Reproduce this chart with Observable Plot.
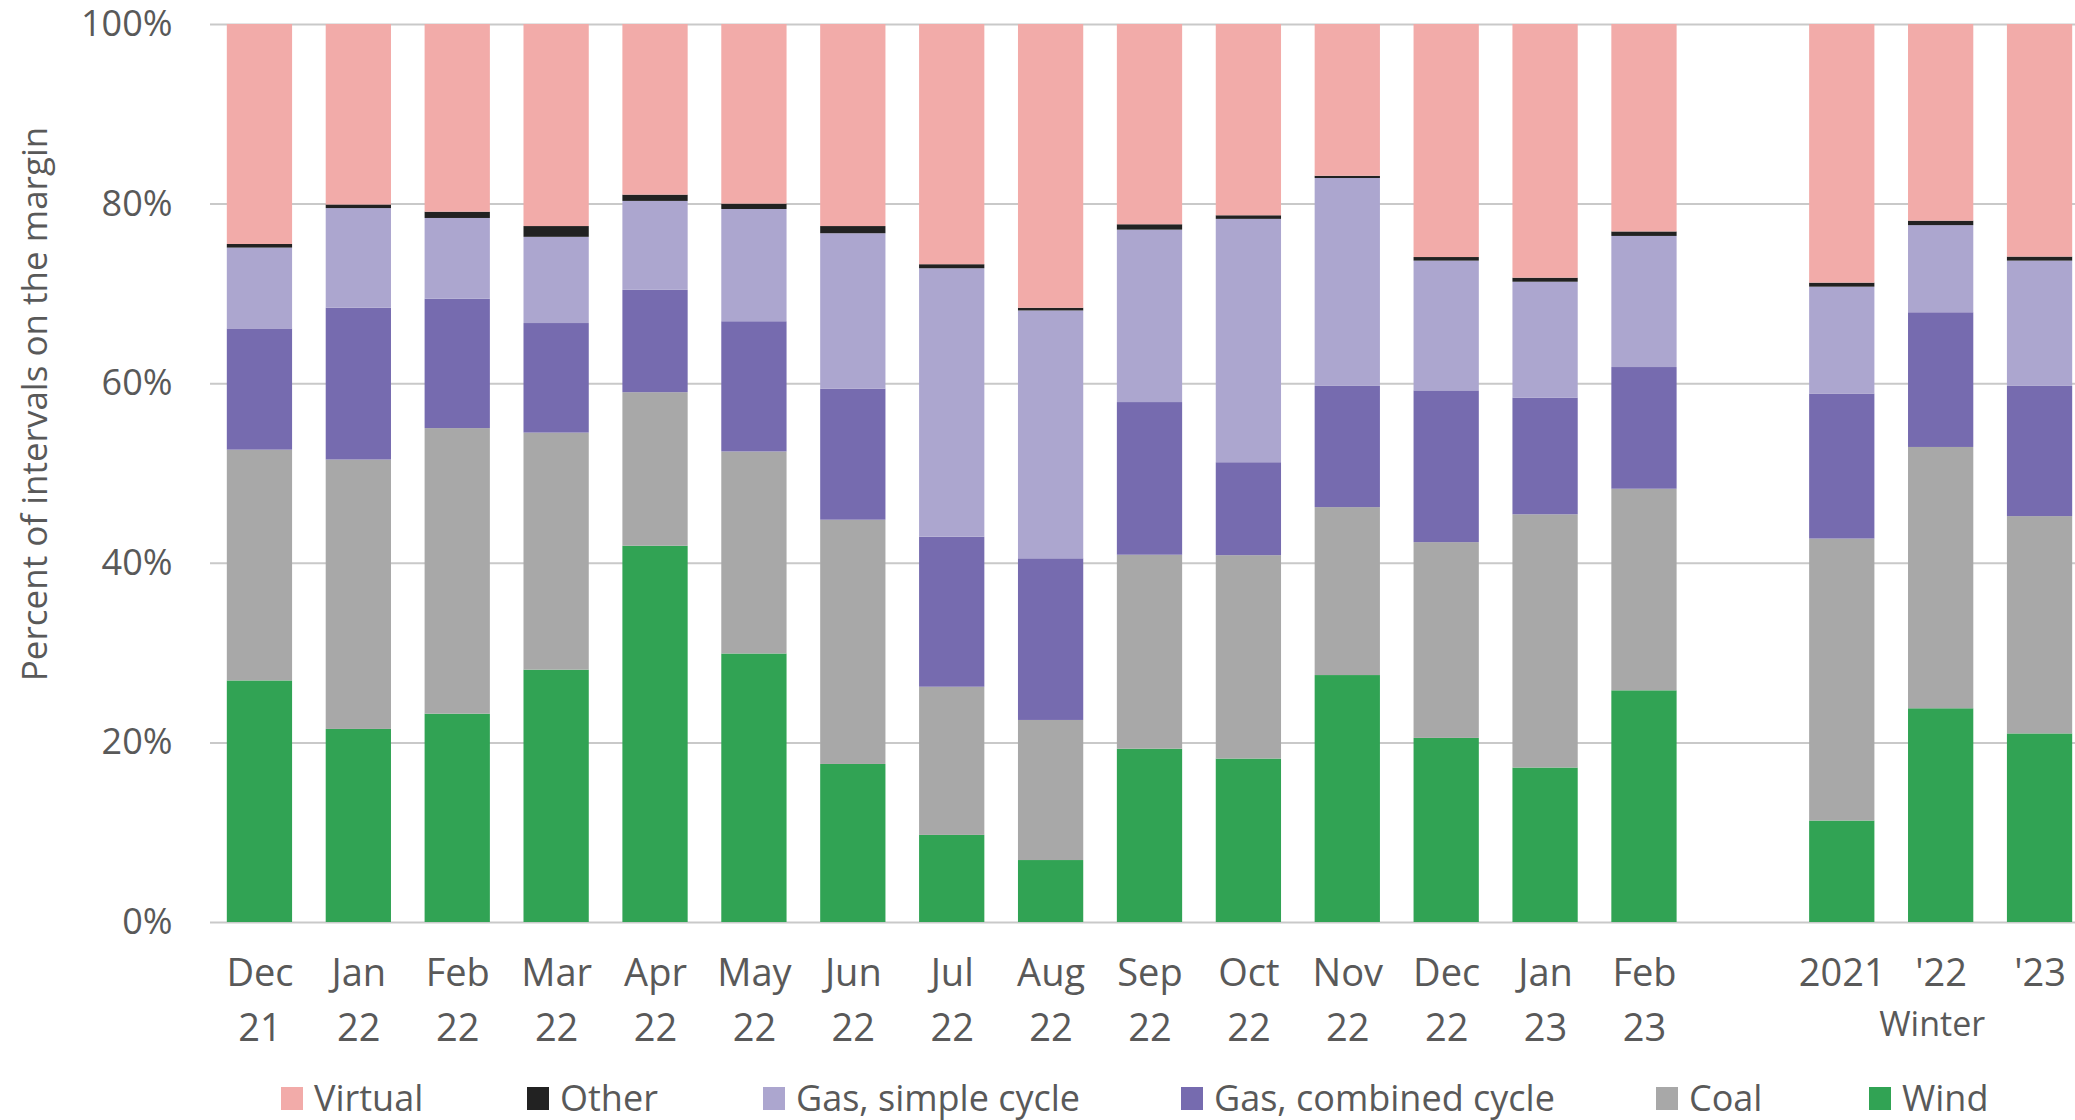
<!DOCTYPE html>
<html>
<head>
<meta charset="utf-8">
<script src="https://cdn.jsdelivr.net/npm/d3@7"></script>
<script src="https://cdn.jsdelivr.net/npm/@observablehq/plot@0.6"></script>
<style>
  html, body { margin: 0; padding: 0; background: #fff; overflow: hidden; width: 2075px; height: 1120px; }
  #wrap { position: relative; width: 2075px; height: 1120px; overflow: hidden; }
  #chart { width: 2075px; overflow: hidden; }
  #chart svg { display: block; max-width: none !important; width: 2089px !important; height: 1060px !important; }
  #ylabel { position: absolute; left: 33px; top: 404px; transform: translate(-50%, -50%) rotate(-90deg); white-space: nowrap;
            font-family: "Open Sans", sans-serif; font-size: 35px; color: #595959; line-height: 1; }
  #legend { position: relative; height: 60px; font-family: "Open Sans", sans-serif; font-size: 36px; color: #595959; }
  #legend .item { position: absolute; top: 20px; height: 36px; line-height: 36px; display: flex; align-items: center; white-space: nowrap; }
  #legend .sw { width: 22px; height: 23px; margin-right: 11px; }
</style>
</head>
<body>
<div id="wrap">
<div id="chart"></div>
<div id="legend"></div>
<div id="ylabel"></div>
</div>
<script>
// ---- data (percent of intervals on the margin) ----
const months = ["Dec 21","Jan 22","Feb 22","Mar 22","Apr 22","May 22","Jun 22","Jul 22","Aug 22","Sep 22","Oct 22","Nov 22","Dec 22","Jan 23","Feb 23"];
const winters = ["2021","'22","'23"];
const groupLabel = "Winter";
const periods = [...months, ...winters];

const wind      = [26.9, 21.5, 23.2, 28.1, 41.9, 29.9, 17.6,  9.7,  6.9, 19.3, 18.2, 27.5, 20.5, 17.2, 25.8, 11.3, 23.8, 21.0];
const coal      = [25.7, 30.0, 31.8, 26.4, 17.1, 22.5, 27.2, 16.5, 15.6, 21.6, 22.65,18.7, 21.8, 28.2, 22.45,31.4, 29.1, 24.2];
const gasCombined=[13.5, 16.9, 14.4, 12.2, 11.4, 14.5, 14.6, 16.7, 18.0, 17.0, 10.35,13.5, 16.9, 13.0, 13.55,16.15,15.0, 14.5];
const gasSimple = [ 9.0, 11.1,  9.0,  9.6,  9.9, 12.5, 17.3, 29.9, 27.6, 19.2, 27.1, 23.15,14.45,12.9, 14.6, 11.9,  9.7, 13.95];
const other     = [ 0.4,  0.4,  0.7,  1.2,  0.7,  0.6,  0.8,  0.45, 0.3,  0.6,  0.4,  0.25, 0.4,  0.45, 0.5,  0.45, 0.5,  0.45];
const virtual   = [24.5, 20.1, 20.9, 22.5, 19.0, 20.0, 22.5, 26.75,31.6, 22.3, 21.3, 16.9, 25.95,28.25,23.1, 28.8, 21.9, 25.9];

const seriesNames = ["Wind","Coal","Gas, combined cycle","Gas, simple cycle","Other","Virtual"];
const seriesValues = [wind, coal, gasCombined, gasSimple, other, virtual];
const seriesColors = ["#31a354","#a8a8a8","#766baf","#aca6cf","#222222","#f2aba9"];
const legendOrder = ["Virtual","Other","Gas, simple cycle","Gas, combined cycle","Coal","Wind"];
const yTicks = [0, 20, 40, 60, 80, 100];
const yLabel = "Percent of intervals on the margin";

// ---- build table ----
const GAP = "gap";
const xDomain = [...months, GAP, ...winters];
const rows = [];
periods.forEach((p, i) => {
  seriesNames.forEach((s, k) => rows.push({period: p, series: s, value: seriesValues[k][i]}));
});
const tickText = p => months.includes(p) ? p.replace(" ", "\n") : p;

const textColor = "#595959";
const chart = Plot.plot({
  width: 2089,
  height: 1060,
  marginLeft: 210,
  marginRight: 0,
  marginTop: 24,
  marginBottom: 138,
  style: {fontFamily: "'Open Sans', sans-serif", background: "white", color: textColor},
  x: {domain: xDomain, paddingInner: 0.34, paddingOuter: 0.17, round: false, axis: null},
  y: {domain: [0, 100], axis: null},
  color: {domain: seriesNames, range: seriesColors},
  marks: [
    Plot.ruleY(yTicks, {stroke: "#c9c9c9", strokeWidth: 2}),
    Plot.barY(rows, {x: "period", y: "value", fill: "series", order: seriesNames}),
    Plot.text(yTicks, {y: d => d, text: d => d + "%", frameAnchor: "left", textAnchor: "end", dx: -38, fontSize: 36, fill: textColor}),
    Plot.text(periods, {x: d => d, text: tickText, frameAnchor: "bottom", lineAnchor: "top", dy: 24, fontSize: 38, lineHeight: 1.45, fill: textColor}),
    Plot.text([groupLabel], {x: () => winters[1], text: d => d, frameAnchor: "bottom", lineAnchor: "top", dx: -9, dy: 89, fontSize: 34, fill: textColor})
  ]
});
document.getElementById("chart").appendChild(chart);
document.getElementById("ylabel").textContent = yLabel;

// ---- legend ----
const legendLeft = [281, 527, 763, 1181, 1656, 1869];
const legend = document.getElementById("legend");
legendOrder.forEach((name, i) => {
  const item = document.createElement("div");
  item.className = "item";
  item.style.left = legendLeft[i] + "px";
  const sw = document.createElement("span");
  sw.className = "sw";
  sw.style.background = seriesColors[seriesNames.indexOf(name)];
  const t = document.createElement("span");
  t.textContent = name;
  item.appendChild(sw);
  item.appendChild(t);
  legend.appendChild(item);
});
</script>
</body>
</html>
